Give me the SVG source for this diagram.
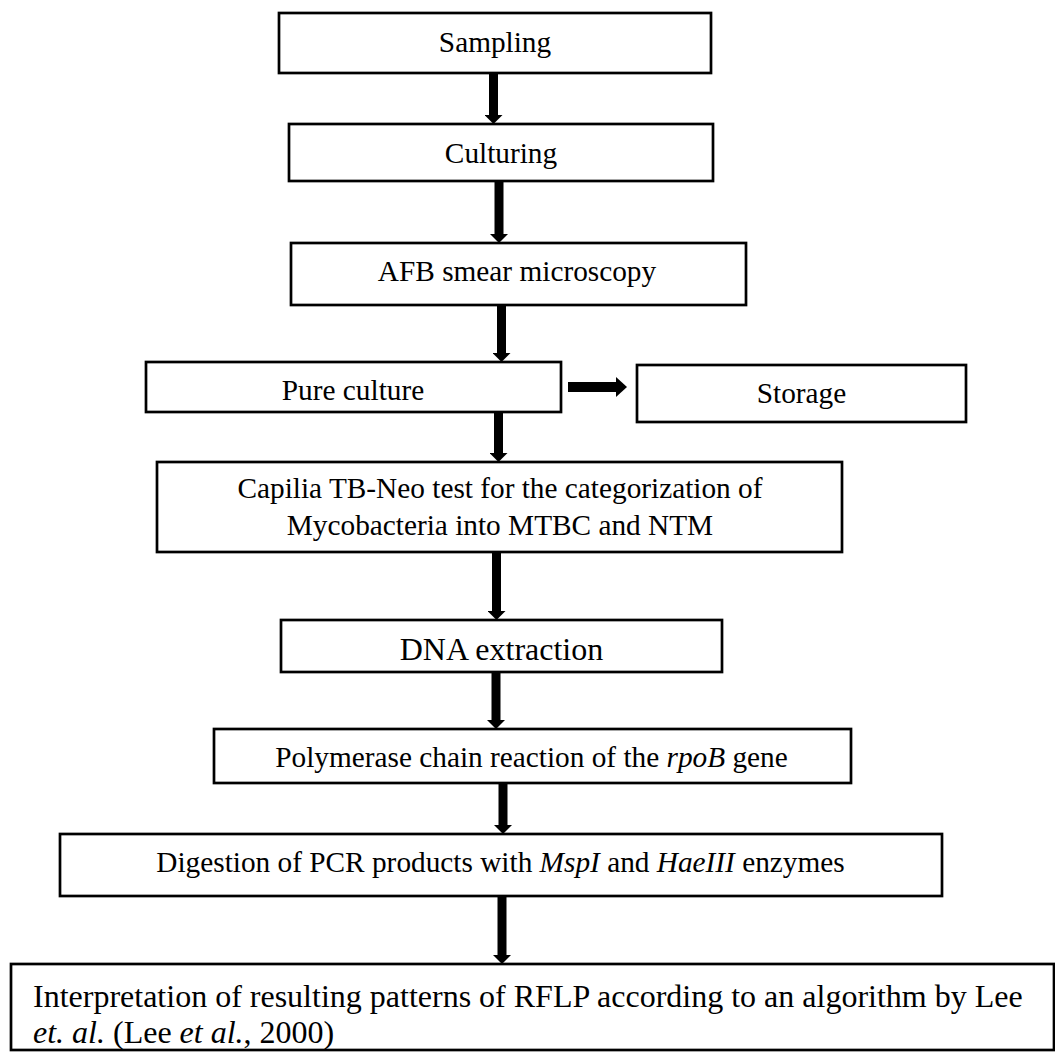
<svg xmlns="http://www.w3.org/2000/svg" width="1055" height="1052" viewBox="0 0 1055 1052">
<style>
.box{fill:#fff;stroke:#000;stroke-width:2.7}
.t{font-family:"Liberation Serif","Times New Roman",serif;font-size:29.3px;fill:#000;text-anchor:middle}
.big{font-size:32px}
.l{text-anchor:start}
.i{font-style:italic}
.arr{stroke:#000;stroke-width:9;fill:none;marker-end:url(#hd)}
.arrh{stroke:#000;stroke-width:10;fill:none;marker-end:url(#hd2)}
</style>
<defs>
<marker id="hd" viewBox="0 0 9 18" refX="0" refY="9" markerWidth="9" markerHeight="18" orient="auto" markerUnits="userSpaceOnUse"><path d="M0,0 L9,9 L0,18 Z" fill="#000"/></marker>
<marker id="hd2" viewBox="0 0 11 20" refX="0" refY="10" markerWidth="11" markerHeight="20" orient="auto" markerUnits="userSpaceOnUse"><path d="M0,0 L11,10 L0,20 Z" fill="#000"/></marker>
</defs>
<rect width="1055" height="1052" fill="#fff"/>
<g id="connectors">
<line class="arr" x1="493.5" y1="73" x2="493.5" y2="115"/>
<line class="arr" x1="499" y1="181" x2="499" y2="234"/>
<line class="arr" x1="501.5" y1="305" x2="501.5" y2="353"/>
<line class="arr" x1="498.5" y1="412" x2="498.5" y2="453"/>
<line class="arr" x1="496.5" y1="552" x2="496.5" y2="611"/>
<line class="arr" x1="496" y1="672" x2="496" y2="720"/>
<line class="arr" x1="503" y1="783" x2="503" y2="825"/>
<line class="arr" x1="502" y1="896" x2="502" y2="955"/>
<line class="arrh" x1="568" y1="387" x2="616" y2="387"/>
</g>
<g id="sampling"><rect class="box" x="279" y="13" width="432" height="60"/><text class="t" x="495" y="52">Sampling</text></g>
<g id="culturing"><rect class="box" x="289" y="124" width="424" height="57"/><text class="t" x="501" y="163">Culturing</text></g>
<g id="afb"><rect class="box" x="291" y="243" width="455" height="62"/><text class="t" x="517" y="281">AFB smear microscopy</text></g>
<g id="pure"><rect class="box" x="146" y="362" width="415" height="50"/><text class="t" x="353" y="400">Pure culture</text></g>
<g id="storage"><rect class="box" x="637" y="365" width="329" height="57"/><text class="t" x="801.5" y="403">Storage</text></g>
<g id="capilia"><rect class="box" x="157" y="462" width="685" height="90"/><text class="t" x="500" y="498">Capilia TB-Neo test for the categorization of</text><text class="t" x="500" y="535">Mycobacteria into MTBC and NTM</text></g>
<g id="dna"><rect class="box" x="281" y="620" width="441" height="52"/><text class="t big" x="501.5" y="660">DNA extraction</text></g>
<g id="pcr"><rect class="box" x="214" y="729" width="637" height="54"/><text class="t" x="531.5" y="767">Polymerase chain reaction of the <tspan class="i">rpoB</tspan> gene</text></g>
<g id="digestion"><rect class="box" x="60" y="834" width="882" height="62"/><text class="t" x="500.5" y="872">Digestion of PCR products with <tspan class="i">MspI</tspan> and <tspan class="i">HaeIII</tspan> enzymes</text></g>
<g id="interpretation"><rect class="box" x="11" y="964" width="1043" height="86"/><text class="t big l" x="33" y="1007">Interpretation of resulting patterns of RFLP according to an algorithm by Lee</text><text class="t big l" x="33" y="1043"><tspan class="i">et. al.</tspan> (Lee <tspan class="i">et al.</tspan>, 2000)</text></g>
</svg>
